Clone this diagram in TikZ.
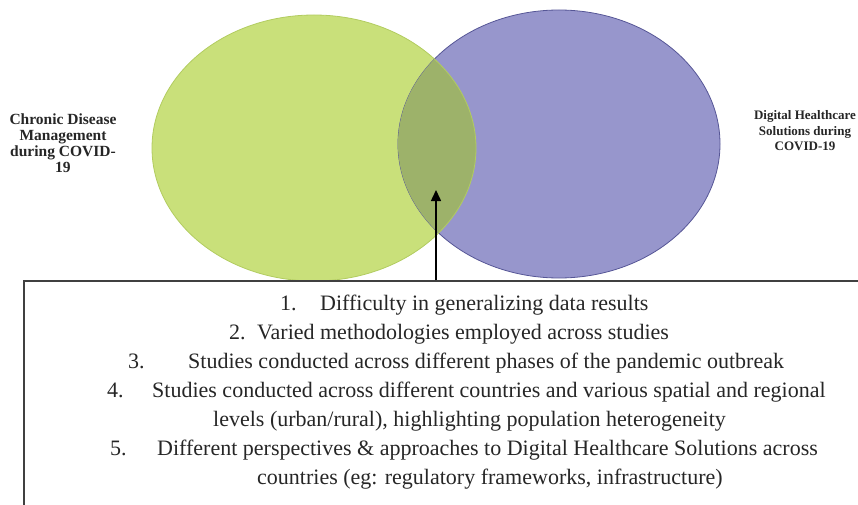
\documentclass[tikz,border=0pt]{standalone}
\usepackage{fontspec}
\setmainfont{Liberation Serif}
\usetikzlibrary{arrows.meta,positioning}
\definecolor{setgreen}{RGB}{201,224,122}
\definecolor{setgreenline}{RGB}{178,204,96}
\definecolor{setpurple}{RGB}{151,150,204}
\definecolor{setpurpleline}{RGB}{86,86,150}
\definecolor{setoverlap}{RGB}{157,178,106}

\begin{document}
\begin{tikzpicture}[x=1pt, y=-1pt,
    setlabel/.style={font=\bfseries\fontsize{15.5}{16}\selectfont,
                     align=center, text=black!85, inner sep=0pt},
    itemline/.style={anchor=base west, inner sep=0pt,
                     font=\fontsize{22}{28}\selectfont, text=black!85},
    issuebox/.style={rectangle, draw=black!75, line width=1.5pt,
                     minimum width=851pt, minimum height=244pt, inner sep=0pt},
    >={Triangle[length=11pt,width=10pt]}
  ]
  \clip (0,0) rectangle (858,505);

  %% The two sets
  \fill[setgreen] (314,148) ellipse [x radius=162pt, y radius=133pt];
  \filldraw[fill=setpurple, draw=setpurpleline, line width=0.8pt]
        (559,144) ellipse [x radius=161pt, y radius=134pt];
  \begin{scope}
    \clip (314,148) ellipse [x radius=162pt, y radius=133pt];
    \fill[setoverlap] (559,144) ellipse [x radius=161pt, y radius=134pt];
  \end{scope}
  \draw[setgreenline, line width=0.8pt] (314,148) ellipse [x radius=162pt, y radius=133pt];
  \coordinate (lens) at (436,190);

  %% Set labels
  \node[setlabel] (chronic) at (63,143) {Chronic Disease\\Management\\during COVID-\\19};
  \node[setlabel, font=\bfseries\fontsize{13}{15.5}\selectfont] (digital) at (805,131)
        {Digital Healthcare\\Solutions during\\COVID-19};

  %% Box with the shared issues
  \node[issuebox] (issues) at (449.5,403) {};
  \draw[->, line width=1.5pt] (lens |- issues.north) -- (lens);

  %% Numbered list
  \node[itemline] (num1) at (280,310) {1.};
  \node[itemline] (item1) at (320,310) {Difficulty in generalizing data results};
  \node[itemline] (num2) at (229,339) {2.};
  \node[itemline] (item2) at (257,339) {Varied methodologies employed across studies};
  \node[itemline] (num3) at (128,368) {3.};
  \node[itemline] (item3) at (188,368) {Studies conducted across different phases of the pandemic outbreak};
  \node[itemline] (num4) at (107,397) {4.};
  \node[itemline] (item4) at (152,397) {Studies conducted across different countries and various spatial and regional};
  \node[itemline] (item4b) at (213,426) {levels (urban/rural), highlighting population heterogeneity};
  \node[itemline] (num5) at (110,455) {5.};
  \node[itemline] (item5) at (157,455) {Different perspectives \& approaches to Digital Healthcare Solutions across};
  \node[itemline] (item5b) at (257,484) {countries (eg: regulatory frameworks, infrastructure)};

\end{tikzpicture}
\end{document}
